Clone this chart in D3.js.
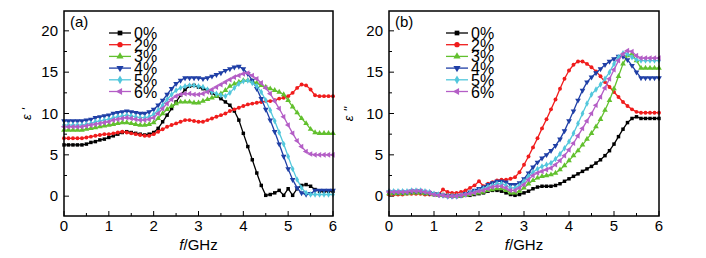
<!DOCTYPE html>
<html>
<head>
<meta charset="utf-8">
<script src="https://cdn.jsdelivr.net/npm/d3@7"></script>
<style>
  body { margin: 0; background: #fff; }
  svg { font-family: "Liberation Sans", Arial, sans-serif; }
</style>
</head>
<body>
<div id="chart"></div>
<script>
// frequency grid, 0..6 GHz every 0.1 GHz
const freq = d3.range(61).map(i => +(i * 0.1).toFixed(1));
const labels = ["0%", "2%", "3%", "4%", "5%", "6%"];
const xTicks = [0, 1, 2, 3, 4, 5, 6];
const yTicks = [0, 5, 10, 15, 20];

// panel (a): real part
const a0 = [6.2,6.2,6.2,6.2,6.2,6.3,6.5,6.6,6.8,6.9,7.1,7.3,7.5,7.7,7.8,7.7,7.6,7.5,7.4,7.5,7.7,8.2,9.0,9.8,10.6,11.4,12.2,12.9,13.3,13.4,13.2,13.0,12.8,12.5,12.1,11.8,11.4,11.0,10.3,9.2,7.6,6.0,4.4,2.8,1.3,0.1,0.2,0.4,0.7,0.1,0.9,0.1,0.9,1.3,1.4,1.2,0.8,0.6,0.6,0.6,0.6];
const a2 = [7.0,7.0,7.0,7.0,7.0,7.1,7.2,7.3,7.4,7.5,7.5,7.6,7.7,7.8,7.7,7.6,7.5,7.4,7.3,7.3,7.5,7.8,8.1,8.4,8.6,8.8,9.0,9.2,9.2,9.1,9.0,9.0,9.2,9.4,9.6,9.8,10.0,10.3,10.5,10.7,10.9,11.1,11.2,11.3,11.4,11.5,11.5,11.6,11.8,11.9,12.1,12.5,13.1,13.5,13.4,12.9,12.2,12.1,12.1,12.1,12.1];
const a3 = [8.0,8.0,8.0,8.0,8.0,8.1,8.2,8.3,8.4,8.5,8.6,8.7,8.8,8.9,8.9,8.8,8.7,8.6,8.6,8.7,8.9,9.4,10.0,10.5,10.9,11.2,11.4,11.4,11.4,11.3,11.3,11.5,11.7,11.9,12.1,12.4,12.8,13.3,13.6,13.8,14.0,14.0,13.9,13.7,13.4,13.2,13.0,12.8,12.6,12.3,11.6,10.8,10.1,9.4,8.8,8.1,7.7,7.6,7.6,7.6,7.6];
const a4 = [9.1,9.1,9.1,9.1,9.1,9.2,9.3,9.5,9.6,9.7,9.8,10.0,10.1,10.2,10.3,10.2,10.1,10.0,10.0,10.2,10.5,11.0,11.6,12.3,13.0,13.6,14.0,14.3,14.3,14.3,14.3,14.2,14.3,14.5,14.7,14.9,15.2,15.4,15.6,15.7,15.4,14.8,14.0,13.0,11.8,10.5,9.2,7.8,6.3,4.8,3.3,2.0,1.0,0.4,0.2,0.3,0.7,0.7,0.7,0.7,0.7];
const a5 = [8.6,8.6,8.6,8.6,8.6,8.7,8.8,9.0,9.1,9.2,9.3,9.5,9.6,9.7,9.8,9.7,9.6,9.5,9.5,9.6,9.9,10.4,11.0,11.7,12.3,12.8,13.1,13.3,13.4,13.4,13.3,13.2,12.9,12.6,12.4,12.2,12.1,12.5,13.1,13.6,13.9,14.0,13.7,13.3,12.6,11.6,10.4,9.1,7.7,6.3,4.8,3.3,2.0,1.0,0.4,0.2,0.2,0.2,0.2,0.2,0.2];
const a6 = [8.4,8.4,8.4,8.4,8.4,8.5,8.6,8.7,8.8,8.9,9.0,9.2,9.3,9.4,9.5,9.4,9.3,9.2,9.2,9.3,9.5,10.0,10.6,11.2,11.7,12.1,12.3,12.4,12.4,12.3,12.3,12.4,12.6,12.9,13.2,13.5,13.8,14.1,14.4,14.6,14.8,14.9,14.6,14.2,13.7,13.1,12.4,11.5,10.6,9.6,8.6,7.6,6.7,6.0,5.4,5.1,5.0,5.0,5.0,5.0,5.0];

// panel (b): imaginary part
const b0 = [0.3,0.3,0.3,0.3,0.4,0.4,0.4,0.4,0.3,0.3,0.2,0.2,0.1,0.1,0.0,0.0,0.0,0.1,0.1,0.2,0.3,0.4,0.6,0.7,0.7,0.6,0.4,0.2,0.1,0.2,0.4,0.6,0.9,1.1,1.2,1.2,1.2,1.3,1.5,1.8,2.1,2.4,2.7,3.0,3.3,3.6,4.0,4.4,4.9,5.5,6.3,7.2,8.1,8.9,9.4,9.6,9.4,9.4,9.4,9.4,9.4];
const b2 = [0.2,0.2,0.2,0.2,0.3,0.3,0.3,0.3,0.2,0.2,0.2,0.2,0.8,0.5,0.4,0.4,0.5,0.7,1.0,1.3,1.8,1.2,1.5,1.7,1.9,2.0,2.0,2.1,2.3,2.9,3.8,4.8,5.9,7.0,8.2,9.3,10.5,11.7,13.0,14.2,15.2,15.9,16.3,16.3,16.0,15.6,15.1,14.5,13.8,13.2,12.6,12.0,11.4,10.9,10.5,10.2,10.1,10.1,10.1,10.1,10.1];
const b3 = [0.3,0.3,0.3,0.3,0.3,0.4,0.4,0.4,0.3,0.3,0.2,0.1,0.1,0.0,0.0,0.0,0.0,0.1,0.2,0.3,0.4,0.5,0.7,0.8,0.9,0.9,0.7,0.4,0.4,0.6,1.0,1.5,1.9,2.2,2.4,2.5,2.6,2.8,3.2,3.7,4.3,4.9,5.5,6.2,6.9,7.6,8.4,9.3,10.4,11.6,13.0,14.5,16.0,17.0,17.2,16.4,15.5,15.5,15.5,15.5,15.5];
const b4 = [0.5,0.5,0.5,0.5,0.5,0.6,0.6,0.6,0.5,0.4,0.3,0.2,0.1,0.0,0.0,0.0,0.1,0.3,0.5,0.7,0.9,1.1,1.4,1.6,1.8,1.8,1.7,1.4,1.4,1.6,2.1,2.8,3.5,4.1,4.6,5.0,5.5,6.1,6.9,7.9,9.1,10.3,11.6,12.8,13.8,14.4,14.9,15.4,15.9,16.3,16.6,16.9,16.9,16.5,15.8,15.0,14.3,14.3,14.3,14.3,14.3];
const b5 = [0.6,0.6,0.6,0.6,0.6,0.7,0.7,0.7,0.6,0.5,0.3,0.2,0.1,0.0,0.0,0.0,0.1,0.2,0.4,0.5,0.7,0.9,1.1,1.3,1.5,1.5,1.3,1.0,1.0,1.3,1.8,2.4,2.9,3.3,3.6,3.8,4.0,4.5,5.1,5.8,6.6,7.6,8.8,10.0,11.2,12.3,12.9,13.5,14.2,15.0,16.0,16.8,17.3,17.2,16.8,16.5,16.4,16.4,16.4,16.4,16.4];
const b6 = [0.5,0.5,0.5,0.5,0.5,0.6,0.6,0.6,0.5,0.4,0.2,0.1,0.1,0.0,0.0,0.0,0.1,0.2,0.3,0.4,0.6,0.7,0.9,1.1,1.2,1.2,1.0,0.7,0.7,1.0,1.4,2.0,2.5,2.8,3.0,3.2,3.4,3.8,4.3,4.9,5.6,6.4,7.3,8.2,9.1,10.0,11.0,12.0,13.1,14.2,15.3,16.4,17.2,17.6,17.5,17.0,16.7,16.7,16.7,16.7,16.7];

const colors = ["#000000", "#f01c1c", "#62c02e", "#1f3fa6", "#52c7dc", "#b45ec6"];
const symbols = [
  d3.symbol().type(d3.symbolSquare).size(12),
  d3.symbol().type(d3.symbolCircle).size(12),
  d3.symbol().type(d3.symbolTriangle).size(14),
  d3.symbol().type(d3.symbolTriangle).size(14),
  d3.symbol().type(d3.symbolDiamond).size(12),
  d3.symbol().type(d3.symbolTriangle).size(14)
];
const rotations = [0, 0, 0, 180, 0, -90];

const svg = d3.select("#chart").append("svg")
    .attr("width", 706)
    .attr("height", 258);

function drawPanel(opts) {
    const x = d3.scaleLinear().domain([0, 6]).range([opts.left, opts.right]);
    const y = d3.scaleLinear().domain([-2.4, 22.4]).range([216, 11]);
    const g = svg.append("g");

    // minor + major ticks, pointing inward
    const minorX = d3.range(0, 6.01, 0.5);
    g.selectAll(".tx").data(minorX).join("line")
        .attr("x1", d => x(d)).attr("x2", d => x(d))
        .attr("y1", 216).attr("y2", d => 216 - (Number.isInteger(d) ? 5 : 3))
        .attr("stroke", "#000").attr("stroke-width", 1);
    const minorY = d3.range(0, 20.01, 2.5);
    g.selectAll(".ty").data(minorY).join("line")
        .attr("y1", d => y(d)).attr("y2", d => y(d))
        .attr("x1", opts.left).attr("x2", d => opts.left + (d % 5 === 0 ? 5 : 3))
        .attr("stroke", "#000").attr("stroke-width", 1);

    // tick labels
    g.selectAll(".lx").data(xTicks).join("text")
        .attr("x", d => x(d)).attr("y", 231)
        .attr("text-anchor", "middle")
        .style("font-size", "15px")
        .text(d => d);
    g.selectAll(".ly").data(yTicks).join("text")
        .attr("x", opts.left - 6).attr("y", d => y(d) + 5)
        .attr("text-anchor", "end")
        .style("font-size", "15px")
        .text(d => d);

    // axis titles
    const xt = g.append("text")
        .attr("x", (opts.left + opts.right) / 2).attr("y", 250)
        .attr("text-anchor", "middle")
        .style("font-size", "15px");
    xt.append("tspan").style("font-style", "italic").text("f");
    xt.append("tspan").text("/GHz");
    g.append("text")
        .attr("transform", `translate(${opts.ylabX},114) rotate(-90)`)
        .attr("text-anchor", "middle")
        .style("font-size", "13px")
        .style("font-style", "italic")
        .text(opts.ylab);

    // curves
    const line = d3.line().x((d, i) => x(freq[i])).y(d => y(d));
    opts.series.forEach((s, k) => {
        g.append("path")
            .datum(s)
            .attr("fill", "none")
            .attr("stroke", colors[k])
            .attr("stroke-width", 1.3)
            .attr("d", line);
        g.selectAll(null).data(s).join("path")
            .attr("transform", (d, i) => `translate(${x(freq[i])},${y(d)}) rotate(${rotations[k]})`)
            .attr("d", symbols[k])
            .attr("fill", colors[k]);
    });

    // frame
    g.append("rect")
        .attr("x", opts.left).attr("y", 11)
        .attr("width", opts.right - opts.left).attr("height", 205)
        .attr("fill", "none").attr("stroke", "#000").attr("stroke-width", 1.5);

    // panel tag
    g.append("text")
        .attr("x", opts.left + 6).attr("y", 27)
        .style("font-size", "15px")
        .text(opts.tag);

    // legend
    labels.forEach((lab, k) => {
        const ly = 33 + k * 11.7;
        g.append("line")
            .attr("x1", opts.legX).attr("x2", opts.legX + 22)
            .attr("y1", ly).attr("y2", ly)
            .attr("stroke", colors[k]).attr("stroke-width", 1.3);
        g.append("path")
            .attr("transform", `translate(${opts.legX + 11},${ly}) rotate(${rotations[k]})`)
            .attr("d", d3.symbol().type(symbols[k].type()).size(22))
            .attr("fill", colors[k]);
        g.append("text")
            .attr("x", opts.legX + 25).attr("y", ly + 6)
            .style("font-size", "16px")
            .text(lab);
    });
}

drawPanel({left: 64, right: 333, tag: "(a)", ylab: "ε '", ylabX: 31, legX: 109,
    series: [a0, a2, a3, a4, a5, a6]});
drawPanel({left: 389, right: 659, tag: "(b)", ylab: "ε ''", ylabX: 353, legX: 446,
    series: [b0, b2, b3, b4, b5, b6]});
</script>
</body>
</html>
